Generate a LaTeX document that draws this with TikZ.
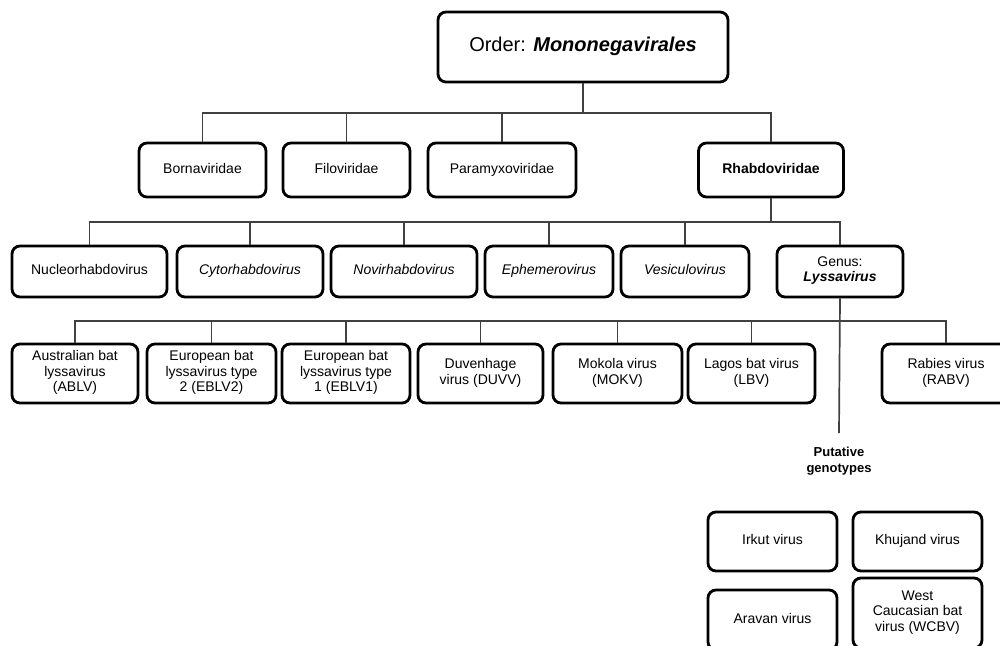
\documentclass[tikz,border=0pt]{standalone}
\usepackage{fontspec}
\setmainfont{Liberation Sans}
\begin{document}
\begin{tikzpicture}[x=1pt,y=-1pt,
  box/.style={draw=black, line width=2.8pt, rounded corners=8pt, fill=white,
    align=center, inner sep=2pt, font=\fontsize{14}{15.5}\selectfont,
    execute at begin node={\strut}, execute at end node={\strut}},
  conn/.style={draw=black!75, line width=1.7pt},
  lbl/.style={align=center, inner sep=0pt, font=\fontsize{13}{16}\selectfont\bfseries}]
\useasboundingbox (0,0) rectangle (1000,645);
\clip (0,0) rectangle (1000,645);
% level 1
\node[box, minimum width=290pt, minimum height=70pt, font=\fontsize{20}{24}\selectfont] (top) at (583,47) {Order: \textbf{\textit{Mononegavirales}}};
% level 2
\node[box, minimum width=127pt, minimum height=54pt] (born) at (202.5,170) {Bornaviridae};
\node[box, minimum width=127pt, minimum height=54pt] (filo) at (346.5,170) {Filoviridae};
\node[box, minimum width=148pt, minimum height=54pt] (para) at (502,170) {Paramyxoviridae};
\node[box, minimum width=145pt, minimum height=54pt] (rhab) at (771,170) {\textbf{Rhabdoviridae}};
% level 3
\node[box, minimum width=155pt, minimum height=51pt] (nucl) at (89.5,271.5) {Nucleorhabdovirus};
\node[box, minimum width=146pt, minimum height=51pt] (cyto) at (250,271.5) {\textit{Cytorhabdovirus}};
\node[box, minimum width=146pt, minimum height=51pt] (novi) at (404,271.5) {\textit{Novirhabdovirus}};
\node[box, minimum width=128pt, minimum height=51pt] (ephe) at (549,271.5) {\textit{Ephemerovirus}};
\node[box, minimum width=128pt, minimum height=51pt] (vesi) at (685,271.5) {\textit{Vesiculovirus}};
\node[box, minimum width=126pt, minimum height=51pt] (lyss) at (840,271.5) {Genus:\\\textbf{\textit{Lyssavirus}}};
% level 4
\node[box, minimum width=126pt, minimum height=59pt] (ablv) at (75,373.5) {Australian bat\\lyssavirus\\(ABLV)};
\node[box, minimum width=129pt, minimum height=59pt] (eblvb) at (211.5,373.5) {European bat\\lyssavirus type\\2 (EBLV2)};
\node[box, minimum width=128pt, minimum height=59pt] (eblva) at (346,373.5) {European bat\\lyssavirus type\\1 (EBLV1)};
\node[box, minimum width=125pt, minimum height=59pt] (duvv) at (480.5,373.5) {Duvenhage\\virus (DUVV)};
\node[box, minimum width=129pt, minimum height=59pt] (mokv) at (617.5,373.5) {Mokola virus\\(MOKV)};
\node[box, minimum width=127pt, minimum height=59pt] (lbv) at (751.5,373.5) {Lagos bat virus\\(LBV)};
\node[box, minimum width=128pt, minimum height=59pt] (rabv) at (946,373.5) {Rabies virus\\(RABV)};
% putative
\node[lbl] (put) at (839,461.5) {Putative\\genotypes};
\node[box, minimum width=129pt, minimum height=59pt] (irkut) at (772.5,541.5) {Irkut virus};
\node[box, minimum width=129pt, minimum height=59pt] (khuj) at (917.5,541.5) {Khujand virus};
\node[box, minimum width=129pt, minimum height=60pt] (arav) at (772.5,620) {Aravan virus};
\node[box, minimum width=129pt, minimum height=70pt] (wcbv) at (917.5,613) {West\\Caucasian bat\\virus (WCBV)};
% connector levels
\coordinate (la) at (0,113);
\coordinate (lb) at (0,222);
\coordinate (lc) at (0,321);
\coordinate (pend) at (839,433);
% level 1 -> 2
\draw[conn] (top.south) -- (top.south |- la);
\draw[conn] (born.north) -- (born.north |- la) -- (rhab.north |- la) -- (rhab.north);
\draw[conn] (filo.north) -- (filo.north |- la);
\draw[conn] (para.north) -- (para.north |- la);
% level 2 -> 3
\draw[conn] (rhab.south) -- (rhab.south |- lb);
\draw[conn] (nucl.north) -- (nucl.north |- lb) -- (lyss.north |- lb) -- (lyss.north);
\draw[conn] (cyto.north) -- (cyto.north |- lb);
\draw[conn] (novi.north) -- (novi.north |- lb);
\draw[conn] (ephe.north) -- (ephe.north |- lb);
\draw[conn] (vesi.north) -- (vesi.north |- lb);
% level 3 -> 4
\draw[conn] (lyss.south) -- (pend);
\draw[conn] (ablv.north) -- (ablv.north |- lc) -- (rabv.north |- lc) -- (rabv.north);
\draw[conn] (eblvb.north) -- (eblvb.north |- lc);
\draw[conn] (eblva.north) -- (eblva.north |- lc);
\draw[conn] (duvv.north) -- (duvv.north |- lc);
\draw[conn] (mokv.north) -- (mokv.north |- lc);
\draw[conn] (lbv.north) -- (lbv.north |- lc);
\end{tikzpicture}
\end{document}
